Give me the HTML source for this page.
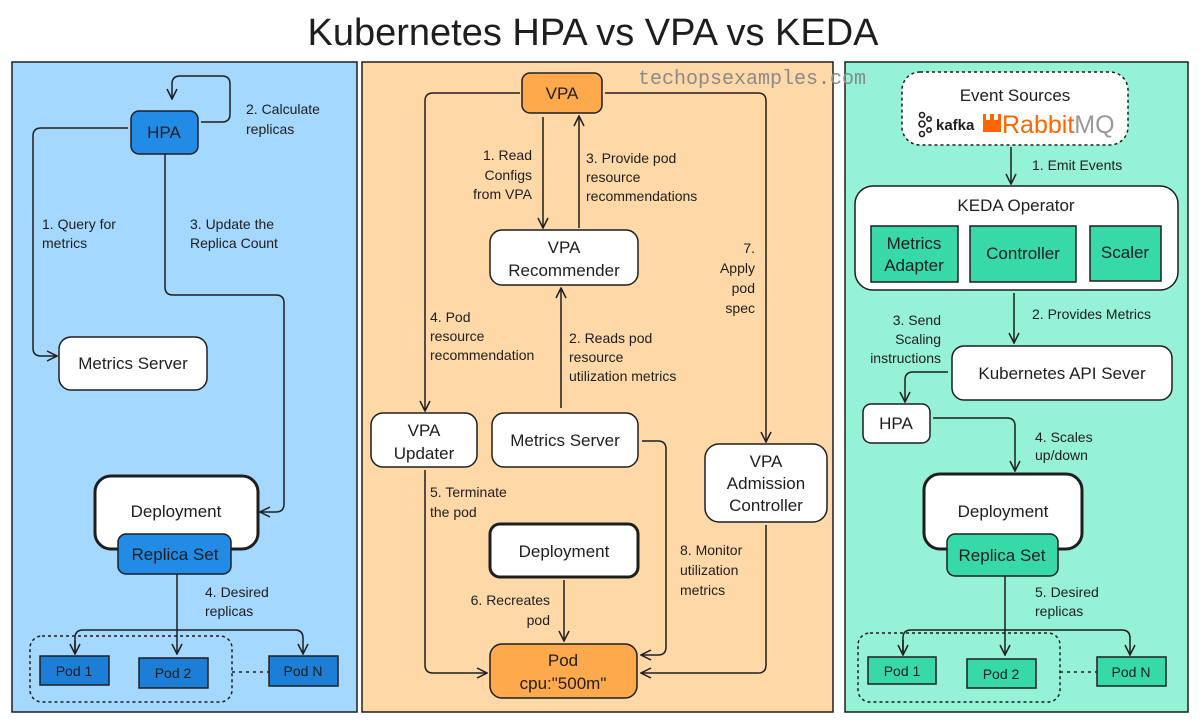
<!DOCTYPE html>
<html><head><meta charset="utf-8"><style>
html,body{margin:0;padding:0;background:#fff;width:1200px;height:723px;overflow:hidden}
svg text{font-family:"Liberation Sans",sans-serif;fill:#1e1e1e}
.l{font-size:14px}
.b{font-size:17px}
</style></head><body>
<svg width="1200" height="723" viewBox="0 0 1200 723" xmlns="http://www.w3.org/2000/svg">
<defs>
<marker id="a" viewBox="0 0 12 12" refX="11" refY="6" markerWidth="12" markerHeight="12" markerUnits="userSpaceOnUse" orient="auto">
<path d="M1 1 L11 6 L1 11" fill="none" stroke="#1e1e1e" stroke-width="1.5"/></marker>
</defs>
<text x="593" y="45" font-size="38" text-anchor="middle">Kubernetes HPA vs VPA vs KEDA</text>

<!-- panels -->
<rect x="12" y="62" width="345" height="650" fill="#a5d8ff" stroke="#1e1e1e" stroke-width="1.5"/>
<rect x="362" y="62" width="471" height="650" fill="#ffd8a8" stroke="#1e1e1e" stroke-width="1.5"/>
<rect x="845" y="62" width="343" height="650" fill="#96f2d7" stroke="#1e1e1e" stroke-width="1.5"/>

<g fill="none" stroke="#1e1e1e" stroke-width="1.5">
<!-- LEFT -->
<path d="M201 122 H222 Q230 122 230 114 V84 Q230 76 222 76 H180 Q172 76 172 84 V99" marker-end="url(#a)"/>
<path d="M128 128 H41 Q33 128 33 136 V348 Q33 356 41 356 H57" marker-end="url(#a)"/>
<path d="M165 138 V287 Q165 295 173 295 H276 Q284 295 284 303 V504 Q284 512 276 512 H260" marker-end="url(#a)"/>
<path d="M177 574 V654" marker-end="url(#a)"/>
<path d="M75 654 V638 Q75 630 83 630 H295 Q303 630 303 638 V654" marker-end="url(#a)"/>
<path d="M75 640 V654" marker-end="url(#a)"/>
<rect x="30" y="636" width="202" height="66" rx="12" stroke-dasharray="3 3"/>
<path d="M232 672 H269" stroke-dasharray="3 4"/>

<!-- MIDDLE -->
<path d="M520 93 H433 Q425 93 425 101 V411" marker-end="url(#a)"/>
<path d="M605 93 H758 Q766 93 766 101 V442" marker-end="url(#a)"/>
<path d="M543 117 V228" marker-end="url(#a)"/>
<path d="M579 228 V116" marker-end="url(#a)"/>
<path d="M561 408 V288" marker-end="url(#a)"/>
<path d="M425 470 V665 Q425 673 433 673 H487" marker-end="url(#a)"/>
<path d="M642 441 H658 Q666 441 666 449 V647 Q666 655 658 655 H641" marker-end="url(#a)"/>
<path d="M766 525 V665 Q766 673 758 673 H641" marker-end="url(#a)"/>
<path d="M564 580 V641" marker-end="url(#a)"/>

<!-- RIGHT -->
<path d="M1011 147 V184" marker-end="url(#a)"/>
<path d="M1014 293 V343" marker-end="url(#a)"/>
<path d="M948 372 H913 Q905 372 905 380 V402" marker-end="url(#a)"/>
<path d="M933 418 H1007 Q1015 418 1015 426 V471" marker-end="url(#a)"/>
<path d="M1005 576 V655" marker-end="url(#a)"/>
<path d="M903 654 V638 Q903 630 911 630 H1122 Q1130 630 1130 638 V655" marker-end="url(#a)"/>
<path d="M903 640 V655" marker-end="url(#a)"/>
<rect x="858" y="633" width="202" height="69" rx="12" stroke-dasharray="3 3"/>
<path d="M1060 672 H1097" stroke-dasharray="3 4"/>
<rect x="902" y="72" width="226" height="73" rx="18" fill="#fff" stroke-dasharray="3 3"/>
</g>

<!-- LEFT boxes -->
<rect x="131" y="111" width="67" height="43" rx="8" fill="#228be6" stroke="#1e1e1e" stroke-width="1.5"/>
<text x="164" y="138" class="b" text-anchor="middle">HPA</text>
<text x="246" y="114" class="l">2. Calculate</text><text x="246" y="134" class="l">replicas</text>
<text x="42" y="229" class="l">1. Query for</text><text x="42" y="248" class="l">metrics</text>
<text x="190" y="229" class="l">3. Update the</text><text x="190" y="248" class="l">Replica Count</text>
<rect x="59" y="337" width="148" height="53" rx="12" fill="#fff" stroke="#1e1e1e" stroke-width="1.5"/>
<text x="133" y="369" class="b" text-anchor="middle">Metrics Server</text>
<rect x="95" y="476" width="163" height="73" rx="16" fill="#fff" stroke="#1e1e1e" stroke-width="3"/>
<text x="176" y="517" class="b" text-anchor="middle">Deployment</text>
<rect x="118" y="534" width="113" height="40" rx="8" fill="#228be6" stroke="#1e1e1e" stroke-width="1.5"/>
<text x="175" y="560" class="b" text-anchor="middle">Replica Set</text>
<text x="205" y="597" class="l">4. Desired</text><text x="205" y="616" class="l">replicas</text>
<rect x="40" y="656" width="69" height="29" fill="#1c7ed6" stroke="#1e1e1e" stroke-width="1.5"/>
<text x="74" y="676" class="l" text-anchor="middle">Pod 1</text>
<rect x="139" y="658" width="69" height="30" fill="#1c7ed6" stroke="#1e1e1e" stroke-width="1.5"/>
<text x="173" y="678" class="l" text-anchor="middle">Pod 2</text>
<rect x="269" y="656" width="69" height="30" fill="#1c7ed6" stroke="#1e1e1e" stroke-width="1.5"/>
<text x="303" y="676" class="l" text-anchor="middle">Pod N</text>

<!-- MIDDLE boxes -->
<rect x="522" y="73" width="80" height="40" rx="8" fill="#ffa94d" stroke="#1e1e1e" stroke-width="1.5"/>
<text x="562" y="99" class="b" text-anchor="middle">VPA</text>
<text x="638" y="84" font-size="20" style="font-family:'Liberation Mono',monospace;fill:#8a8a8a">techopsexamples.com</text>
<text x="532" y="160" class="l" text-anchor="end">1. Read</text>
<text x="532" y="180" class="l" text-anchor="end">Configs</text>
<text x="532" y="199" class="l" text-anchor="end">from VPA</text>
<text x="586" y="163" class="l">3. Provide pod</text>
<text x="586" y="182" class="l">resource</text>
<text x="586" y="201" class="l">recommendations</text>
<rect x="490" y="230" width="148" height="55" rx="12" fill="#fff" stroke="#1e1e1e" stroke-width="1.5"/>
<text x="564" y="253" class="b" text-anchor="middle">VPA</text>
<text x="564" y="276" class="b" text-anchor="middle">Recommender</text>
<text x="755" y="253" class="l" text-anchor="end">7.</text>
<text x="755" y="273" class="l" text-anchor="end">Apply</text>
<text x="755" y="293" class="l" text-anchor="end">pod</text>
<text x="755" y="313" class="l" text-anchor="end">spec</text>
<text x="430" y="322" class="l">4. Pod</text>
<text x="430" y="341" class="l">resource</text>
<text x="430" y="360" class="l">recommendation</text>
<text x="569" y="343" class="l">2. Reads pod</text>
<text x="569" y="362" class="l">resource</text>
<text x="569" y="381" class="l">utilization metrics</text>
<rect x="371" y="413" width="106" height="54" rx="12" fill="#fff" stroke="#1e1e1e" stroke-width="1.5"/>
<text x="424" y="436" class="b" text-anchor="middle">VPA</text>
<text x="424" y="459" class="b" text-anchor="middle">Updater</text>
<rect x="492" y="413" width="146" height="54" rx="12" fill="#fff" stroke="#1e1e1e" stroke-width="1.5"/>
<text x="565" y="446" class="b" text-anchor="middle">Metrics Server</text>
<rect x="705" y="444" width="122" height="78" rx="14" fill="#fff" stroke="#1e1e1e" stroke-width="1.5"/>
<text x="766" y="467" class="b" text-anchor="middle">VPA</text>
<text x="766" y="489" class="b" text-anchor="middle">Admission</text>
<text x="766" y="511" class="b" text-anchor="middle">Controller</text>
<text x="430" y="497" class="l">5. Terminate</text>
<text x="430" y="517" class="l">the pod</text>
<rect x="490" y="524" width="148" height="53" rx="10" fill="#fff" stroke="#1e1e1e" stroke-width="3"/>
<text x="564" y="557" class="b" text-anchor="middle">Deployment</text>
<text x="550" y="605" class="l" text-anchor="end">6. Recreates</text>
<text x="550" y="625" class="l" text-anchor="end">pod</text>
<text x="680" y="555" class="l">8. Monitor</text>
<text x="680" y="575" class="l">utilization</text>
<text x="680" y="595" class="l">metrics</text>
<rect x="490" y="644" width="147" height="54" rx="12" fill="#ffa94d" stroke="#1e1e1e" stroke-width="1.5"/>
<text x="563" y="666" class="b" text-anchor="middle">Pod</text>
<text x="563" y="689" class="b" text-anchor="middle">cpu:"500m"</text>

<!-- RIGHT boxes -->
<text x="1015" y="101" class="b" text-anchor="middle">Event Sources</text>
<g fill="none" stroke="#1e1e1e" stroke-width="1.6">
<circle cx="922" cy="115" r="2.5"/><circle cx="922" cy="124" r="3"/><circle cx="922" cy="134" r="2.5"/>
<circle cx="929" cy="119" r="2.2"/><circle cx="929" cy="130" r="2.2"/>
</g>
<text x="936" y="130" font-size="15" style="font-weight:bold">kafka</text>
<rect x="983" y="114" width="18" height="18" fill="#ff6600"/>
<rect x="986" y="114" width="4" height="6" fill="#fff"/><rect x="994" y="114" width="4" height="6" fill="#fff"/>
<text x="1002" y="133" font-size="25" style="fill:#ff6600">Rabbit<tspan style="fill:#999">MQ</tspan></text>
<text x="1032" y="170" class="l">1. Emit Events</text>
<rect x="855" y="186" width="323" height="104" rx="18" fill="#fff" stroke="#1e1e1e" stroke-width="1.5"/>
<text x="1016" y="211" class="b" text-anchor="middle">KEDA Operator</text>
<rect x="871" y="226" width="87" height="56" fill="#38d9a9" stroke="#1e1e1e" stroke-width="1.5"/>
<text x="914" y="249" class="b" text-anchor="middle">Metrics</text>
<text x="914" y="271" class="b" text-anchor="middle">Adapter</text>
<rect x="970" y="226" width="106" height="56" fill="#38d9a9" stroke="#1e1e1e" stroke-width="1.5"/>
<text x="1023" y="259" class="b" text-anchor="middle">Controller</text>
<rect x="1090" y="226" width="71" height="55" fill="#38d9a9" stroke="#1e1e1e" stroke-width="1.5"/>
<text x="1125" y="258" class="b" text-anchor="middle">Scaler</text>
<text x="1032" y="319" class="l">2. Provides Metrics</text>
<text x="941" y="325" class="l" text-anchor="end">3. Send</text>
<text x="941" y="344" class="l" text-anchor="end">Scaling</text>
<text x="941" y="363" class="l" text-anchor="end">instructions</text>
<rect x="952" y="346" width="220" height="54" rx="12" fill="#fff" stroke="#1e1e1e" stroke-width="1.5"/>
<text x="1062" y="379" class="b" text-anchor="middle">Kubernetes API Sever</text>
<rect x="863" y="404" width="67" height="39" rx="8" fill="#fff" stroke="#1e1e1e" stroke-width="1.5"/>
<text x="896" y="429" class="b" text-anchor="middle">HPA</text>
<text x="1035" y="442" class="l">4. Scales</text>
<text x="1035" y="460" class="l">up/down</text>
<rect x="924" y="474" width="158" height="75" rx="16" fill="#fff" stroke="#1e1e1e" stroke-width="3"/>
<text x="1003" y="517" class="b" text-anchor="middle">Deployment</text>
<rect x="947" y="534" width="111" height="42" rx="8" fill="#38d9a9" stroke="#1e1e1e" stroke-width="1.5"/>
<text x="1002" y="561" class="b" text-anchor="middle">Replica Set</text>
<text x="1035" y="597" class="l">5. Desired</text>
<text x="1035" y="616" class="l">replicas</text>
<rect x="868" y="657" width="68" height="27" fill="#38d9a9" stroke="#1e1e1e" stroke-width="1.5"/>
<text x="902" y="676" class="l" text-anchor="middle">Pod 1</text>
<rect x="967" y="659" width="69" height="29" fill="#38d9a9" stroke="#1e1e1e" stroke-width="1.5"/>
<text x="1001" y="679" class="l" text-anchor="middle">Pod 2</text>
<rect x="1097" y="657" width="69" height="29" fill="#38d9a9" stroke="#1e1e1e" stroke-width="1.5"/>
<text x="1131" y="677" class="l" text-anchor="middle">Pod N</text>
</svg>
</body></html>
